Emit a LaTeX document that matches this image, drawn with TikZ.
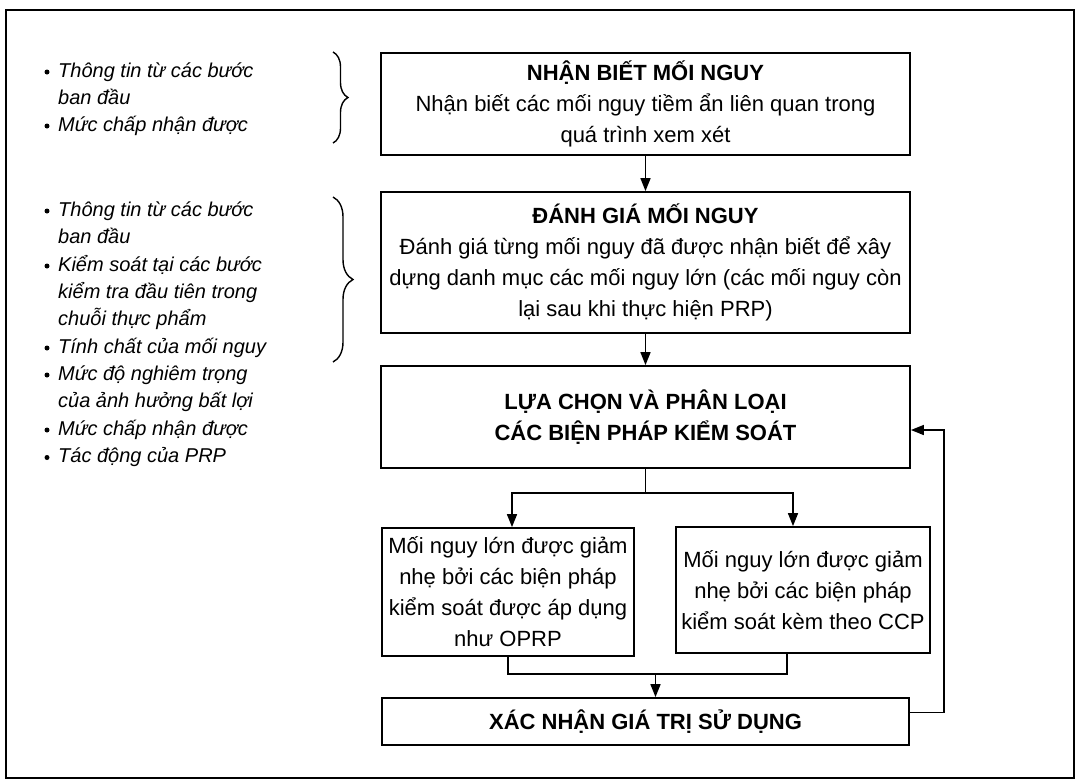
\documentclass[tikz,border=0pt]{standalone}
\usepackage{fontspec}
\setmainfont{Liberation Sans}
\usetikzlibrary{arrows.meta,decorations.pathreplacing,calc}
\begin{document}
\begin{tikzpicture}[x=1pt,y=-1pt,
 box/.style={draw, line width=1.8pt, inner sep=0pt, align=center, font=\fontsize{22}{31}\selectfont},
 conn/.style={line width=1.6pt},
 arr/.style={conn, -{Triangle[length=13pt,width=10pt]}},
 lt/.style={anchor=base west, inner sep=0pt, font=\fontsize{20}{24}\selectfont\itshape},
 bul/.style={circle, fill, inner sep=0pt, minimum size=5pt},
 brc/.style={decorate, decoration={brace, amplitude=#1}, line width=1.4pt}]
\useasboundingbox (0,0) rectangle (1076,780);
\draw[line width=1.8pt] (6,10) rectangle (1074,778);

% main boxes
\node[box, minimum width=529pt, minimum height=102pt] (b1) at (645.5,104)
  {{\bfseries NHẬN BIẾT MỐI NGUY}\\Nhận biết các mối nguy tiềm ẩn liên quan trong\\quá trình xem xét};
\node[box, minimum width=529pt, minimum height=141pt] (b2) at (645.5,262.5)
  {{\bfseries ĐÁNH GIÁ MỐI NGUY}\\Đánh giá từng mối nguy đã được nhận biết để xây\\dựng danh mục các mối nguy lớn (các mối nguy còn\\lại sau khi thực hiện PRP)};
\node[box, minimum width=529pt, minimum height=102pt] (b3) at (645.5,417)
  {\bfseries LỰA CHỌN VÀ PHÂN LOẠI\\\bfseries CÁC BIỆN PHÁP KIỂM SOÁT};
\node[box, minimum width=252pt, minimum height=128pt] (b4) at (508,592)
  {Mối nguy lớn được giảm\\nhẹ bởi các biện pháp\\kiểm soát được áp dụng\\như OPRP};
\node[box, minimum width=254pt, minimum height=126pt] (b5) at (803,590)
  {Mối nguy lớn được giảm\\nhẹ bởi các biện pháp\\kiểm soát kèm theo CCP};
\node[box, minimum width=527pt, minimum height=47pt] (b6) at (645.5,721.5)
  {\bfseries XÁC NHẬN GIÁ TRỊ SỬ DỤNG};

% connectors
\draw[arr] (b1.south) -- (b2.north);
\draw[arr] (b2.south) -- (b3.north);
\draw[conn] (b3.south) -- ++(0,24) coordinate (s1);
\draw[arr] (s1) -| ([xshift=4pt]b4.north);
\draw[arr] (s1) -| ([xshift=-10pt]b5.north);
\draw[conn] (b4.south) -- ++(0,17) coordinate (j1) -| ([xshift=-16pt]b5.south);
\path ([xshift=10pt]b6.north) coordinate (b6in);
\draw[arr] (j1 -| b6in) -- (b6in);
\draw[arr] ([yshift=9pt]b6.east) -- ++(34,0) |- ([yshift=-13pt]b3.east);

% braces
\draw[brc=15pt] (333,52) -- (333,143);
\draw[brc=20pt] (333,197) -- (333,362);

% left text group 1
\node[lt] (g1a) at (58,77) {Thông tin từ các bước};
\node[lt] (g1b) at (58,104) {ban đầu};
\node[lt] (g1c) at (58,131) {Mức chấp nhận được};
\node[bul] (d1) at (47,72) {};
\node[bul] (d2) at (47,126) {};

% left text group 2
\node[lt] (g2a) at (58,216) {Thông tin từ các bước};
\node[lt] (g2b) at (58,243.5) {ban đầu};
\node[lt] (g2c) at (58,271) {Kiểm soát tại các bước};
\node[lt] (g2d) at (58,298) {kiểm tra đầu tiên trong};
\node[lt] (g2e) at (58,325.5) {chuỗi thực phẩm};
\node[lt] (g2f) at (58,353) {Tính chất của mối nguy};
\node[lt] (g2g) at (58,380) {Mức độ nghiêm trọng};
\node[lt] (g2h) at (58,407.5) {của ảnh hưởng bất lợi};
\node[lt] (g2i) at (58,435) {Mức chấp nhận được};
\node[lt] (g2j) at (58,462.5) {Tác động của PRP};
\node[bul] (e1) at (47,211) {};
\node[bul] (e2) at (47,266) {};
\node[bul] (e3) at (47,348) {};
\node[bul] (e4) at (47,375) {};
\node[bul] (e5) at (47,430) {};
\node[bul] (e6) at (47,457.5) {};
\end{tikzpicture}
\end{document}
